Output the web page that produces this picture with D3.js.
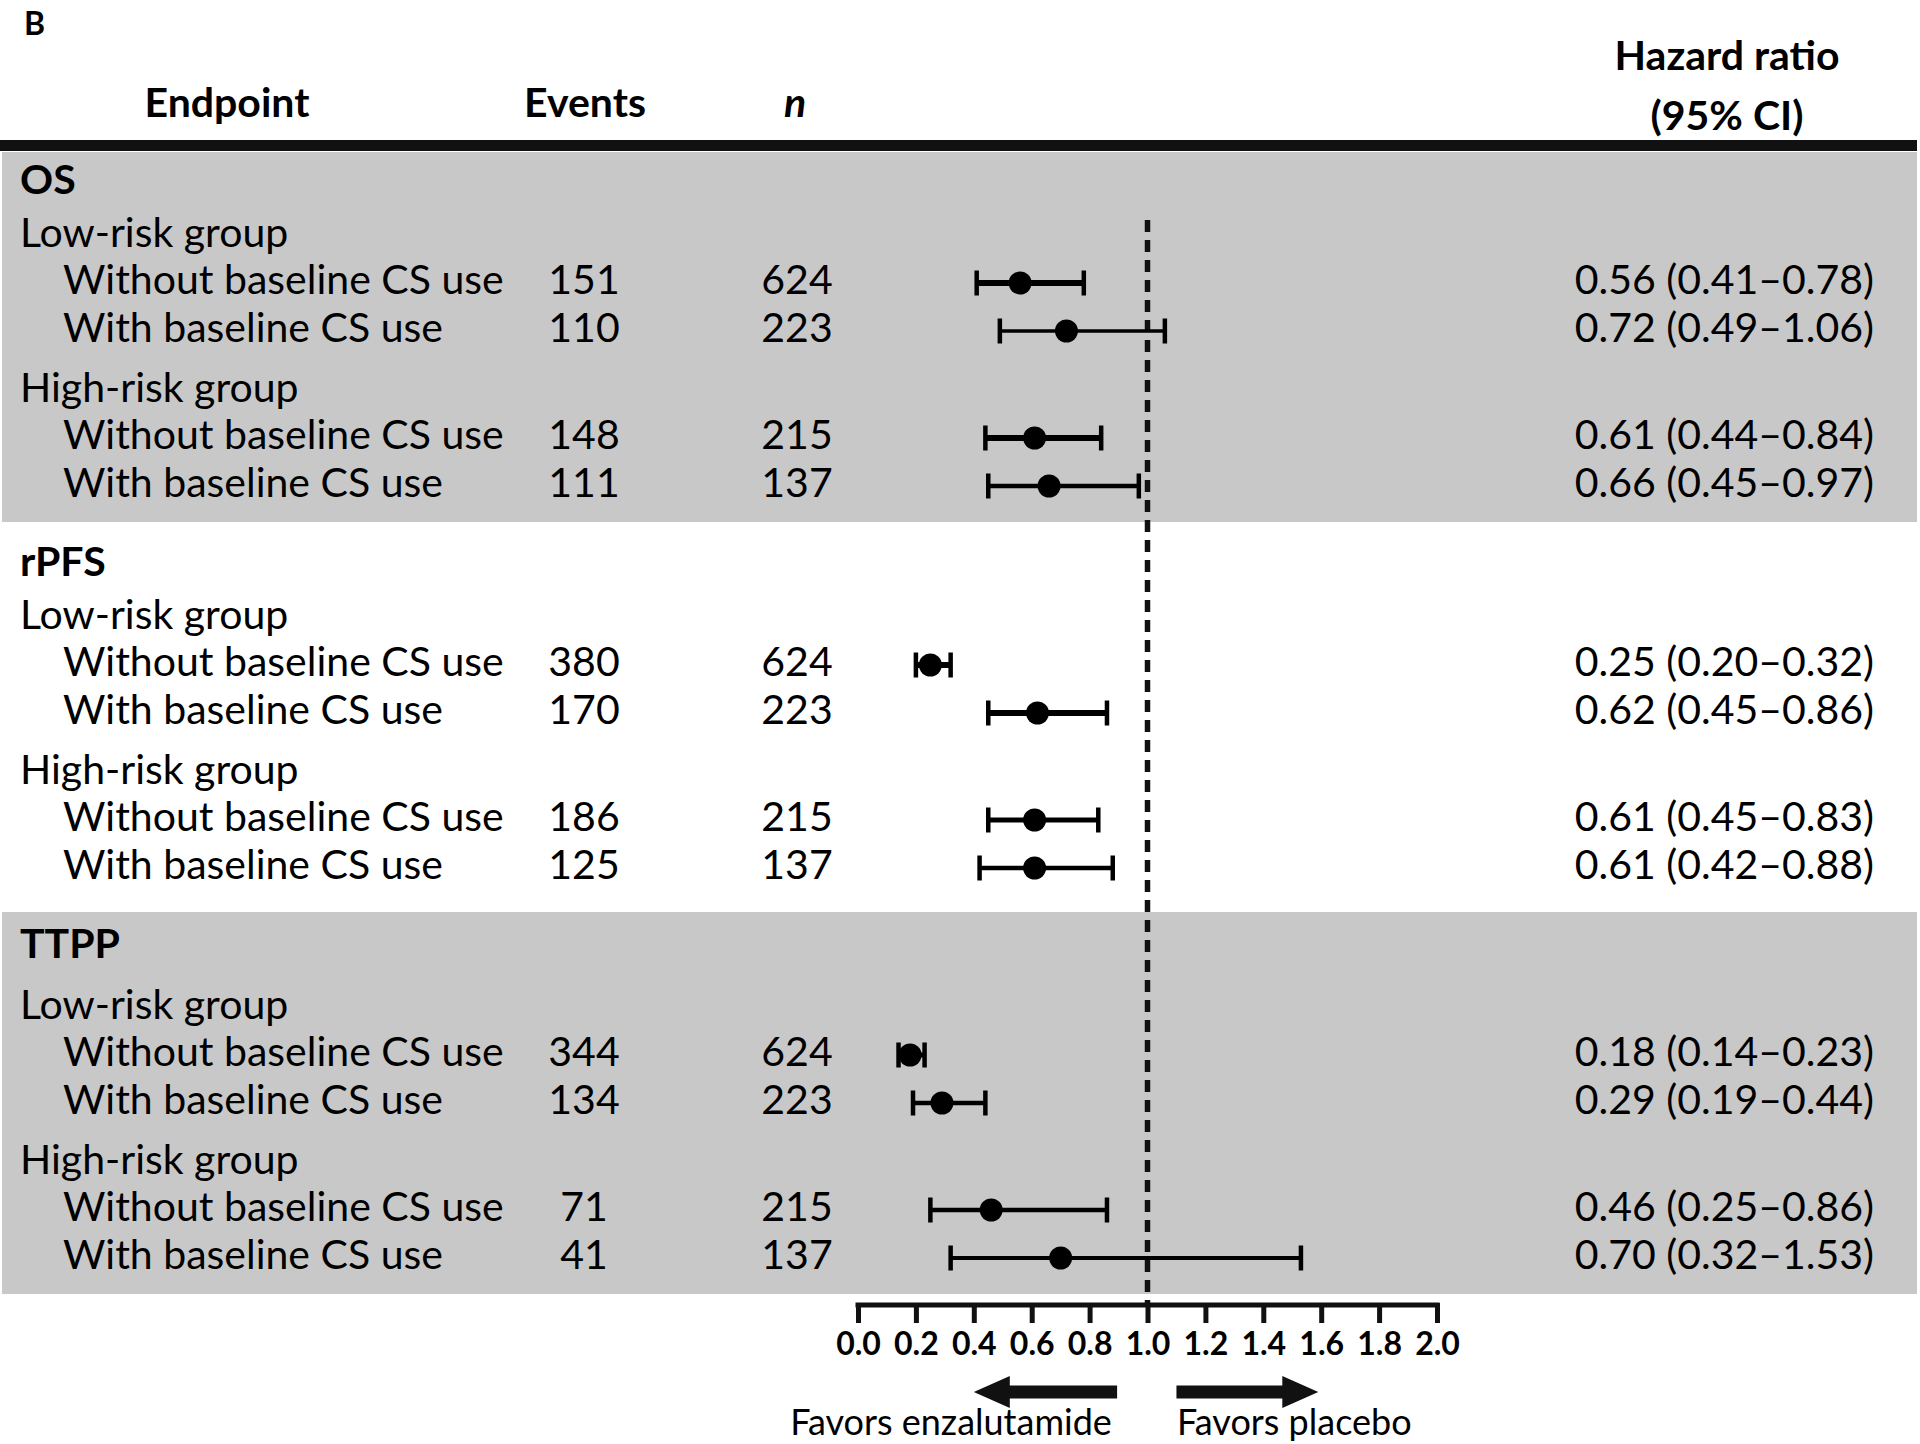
<!DOCTYPE html>
<html><head><meta charset="utf-8">
<script src="https://cdn.jsdelivr.net/npm/d3@7"></script>
<style>
html,body{margin:0;padding:0;background:#fff}
svg{display:block}
</style>
</head><body>
<script>
// ---------- DATA ----------
const panelLabel = "B";
const sections = ["OS", "rPFS", "TTPP"];
const groups = ["Low-risk group", "High-risk group"];
const subgroups = ["Without baseline CS use", "With baseline CS use"];
const events    = [151, 110, 148, 111,  380, 170, 186, 125,  344, 134, 71, 41];
const nPatients = [624, 223, 215, 137,  624, 223, 215, 137,  624, 223, 215, 137];
const hr     = [0.56, 0.72, 0.61, 0.66,  0.25, 0.62, 0.61, 0.61,  0.18, 0.29, 0.46, 0.70];
const ciLow  = [0.41, 0.49, 0.44, 0.45,  0.20, 0.45, 0.45, 0.42,  0.14, 0.19, 0.25, 0.32];
const ciHigh = [0.78, 1.06, 0.84, 0.97,  0.32, 0.86, 0.83, 0.88,  0.23, 0.44, 0.86, 1.53];
const xTicks = [0.0, 0.2, 0.4, 0.6, 0.8, 1.0, 1.2, 1.4, 1.6, 1.8, 2.0];
const headerEndpoint = "Endpoint", headerEvents = "Events", headerN = "n";
const headerHR = ["Hazard ratio", "(95% CI)"];
const favorLeft = "Favors enzalutamide", favorRight = "Favors placebo";
const shadedSections = ["OS", "TTPP"];

// ---------- STYLE ----------
const W = 1920, H = 1444;
const FONT = "Lato, 'Open Sans', sans-serif";
const fs = 41;            // body font size
const ciStroke = [6, 3.5, 6, 4.5,  6, 6, 5, 4.5,  5, 4.5, 4.5, 4];

const svg = d3.select("body").append("svg").attr("width", W).attr("height", H)
  .style("font-family", FONT);

// ---------- LAYOUT (rows) ----------
const rows = [];
let y = 181, prev = null, k = 0;
const gap = {"item-item": 48, "group-item": 47, "item-group": 60, "section-group": 55, "item-section": 77};
sections.forEach((s, si) => {
  if (prev) y += gap[prev + "-section"];
  rows.push({type: "section", label: s, y, si}); prev = "section";
  groups.forEach(g => {
    y += gap[prev + "-group"] + (prev === "section" && si === 2 ? 8 : 0);
    rows.push({type: "group", label: g, y, si}); prev = "group";
    subgroups.forEach(sg => {
      y += gap[prev + "-item"];
      rows.push({type: "item", label: sg, y, si, i: k}); prev = "item"; k++;
    });
  });
});
const items = rows.filter(r => r.type === "item");

// ---------- SCALES ----------
const x = d3.scaleLinear().domain([0, 2]).range([858, 1437]);

// shaded bands
sections.forEach((s, si) => {
  if (!shadedSections.includes(s)) return;
  const rs = rows.filter(r => r.si === si);
  const top = rs[0].y - 29 - (si === 2 ? 4 : 0), bot = rs[rs.length - 1].y + 36;
  svg.append("rect").attr("x", 2).attr("y", top).attr("width", 1915).attr("height", bot - top)
    .attr("fill", "#c8c8c8");
});

// top thick rule
svg.append("rect").attr("x", 0).attr("y", 140).attr("width", 1917).attr("height", 11).attr("fill", "#111");

// panel label
svg.append("text").attr("x", 24).attr("y", 35).attr("font-size", 32).attr("font-weight", 700).text(panelLabel);

// headers
const hdr = svg.append("g").attr("font-weight", 700).attr("font-size", 41).attr("fill", "#000");
hdr.append("text").attr("x", 227).attr("y", 117).attr("text-anchor", "middle").text(headerEndpoint);
hdr.append("text").attr("x", 585).attr("y", 117).attr("text-anchor", "middle").text(headerEvents);
hdr.append("text").attr("x", 795).attr("y", 117).attr("text-anchor", "middle").attr("font-style", "italic").text(headerN);
hdr.selectAll(".hr").data(headerHR).enter().append("text")
  .attr("x", 1727).attr("y", (d, i) => 70 + i * 60).attr("text-anchor", "middle").text(d => d);

// dashed reference line
svg.append("line").attr("x1", x(1)).attr("x2", x(1)).attr("y1", 220).attr("y2", 1303)
  .attr("stroke", "#111").attr("stroke-width", 5.5).attr("stroke-dasharray", "12,8");

// row labels
const base = 0.36 * fs - 4;
const tg = svg.append("g").attr("font-size", fs).attr("fill", "#000");
tg.selectAll(".lab").data(rows).enter().append("text")
  .attr("x", d => d.type === "item" ? 63 : 20)
  .attr("y", d => d.y + base + (d.type === "section" ? 2 : 0))
  .attr("font-weight", d => d.type === "section" ? 700 : 400)
  .text(d => d.label);
tg.selectAll(".ev").data(items).enter().append("text")
  .attr("x", 584).attr("y", d => d.y + base).attr("text-anchor", "middle")
  .text(d => events[d.i]);
tg.selectAll(".np").data(items).enter().append("text")
  .attr("x", 797).attr("y", d => d.y + base).attr("text-anchor", "middle")
  .text(d => nPatients[d.i]);
tg.selectAll(".hrt").data(items).enter().append("text")
  .attr("x", 1874).attr("y", d => d.y + base).attr("text-anchor", "end")
  .text(d => `${hr[d.i].toFixed(2)} (${ciLow[d.i].toFixed(2)}\u2013${ciHigh[d.i].toFixed(2)})`);

// CI bars
const ci = svg.append("g").attr("stroke", "#000");
items.forEach(d => {
  const g = ci.append("g");
  g.append("line").attr("x1", x(ciLow[d.i])).attr("x2", x(ciHigh[d.i])).attr("y1", d.y).attr("y2", d.y)
    .attr("stroke-width", ciStroke[d.i]);
  [ciLow[d.i], ciHigh[d.i]].forEach(v => {
    g.append("line").attr("x1", x(v)).attr("x2", x(v)).attr("y1", d.y - 12.5).attr("y2", d.y + 12.5)
      .attr("stroke-width", 4.5);
  });
  g.append("circle").attr("cx", x(hr[d.i])).attr("cy", d.y).attr("r", 11.5).attr("fill", "#000").attr("stroke", "none");
});

// x axis
const axisG = svg.append("g").attr("transform", "translate(0,1305)")
  .call(d3.axisBottom(x).tickValues(xTicks).tickFormat(d3.format(".1f")).tickSize(18).tickSizeOuter(0));
axisG.select(".domain").attr("stroke", "#111").attr("stroke-width", 5).attr("d", `M${x(0) - 2.5},0H${x(2) + 2.5}`);
axisG.selectAll(".tick line").attr("stroke", "#111").attr("stroke-width", 5).attr("y1", -2);
axisG.selectAll(".tick text").attr("fill", "#000").attr("font-size", 32).attr("font-weight", 700)
  .attr("font-family", FONT).attr("y", 27);

// arrows
const ay = 1392;
function arrow(x0, x1) {
  const dir = Math.sign(x1 - x0), head = 36, hw = 16, sw = 6.5;
  const xb = x1 - dir * head;
  const p = d3.path();
  p.moveTo(x0, ay - sw); p.lineTo(xb, ay - sw); p.lineTo(xb, ay - hw); p.lineTo(x1, ay);
  p.lineTo(xb, ay + hw); p.lineTo(xb, ay + sw); p.lineTo(x0, ay + sw); p.closePath();
  svg.append("path").attr("d", p.toString()).attr("fill", "#111");
}
arrow(x(0.895), x(0.40));
arrow(x(1.10), x(1.59));
svg.append("text").attr("x", 951).attr("y", 1435).attr("text-anchor", "middle").attr("font-size", 36).text(favorLeft);
svg.append("text").attr("x", 1177).attr("y", 1435).attr("text-anchor", "start").attr("font-size", 36).text(favorRight);
</script>
</body></html>
